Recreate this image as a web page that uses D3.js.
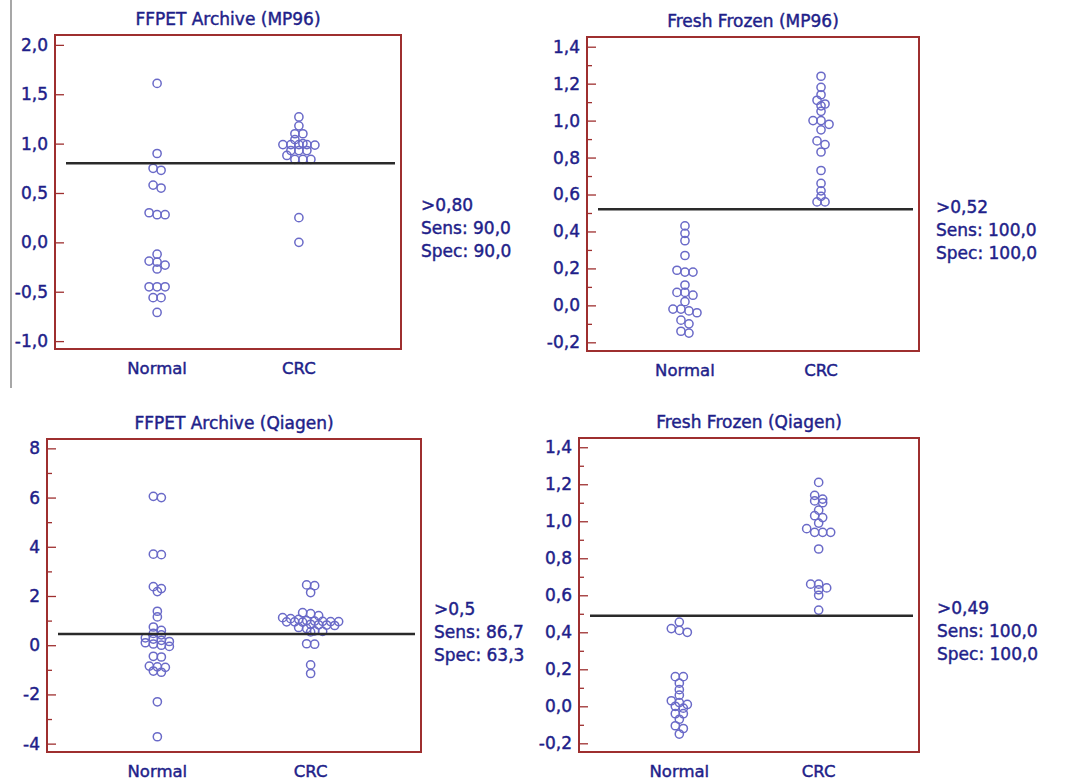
<!DOCTYPE html>
<html>
<head>
<meta charset="utf-8">
<script src="https://cdn.jsdelivr.net/npm/d3@7"></script>
<style>
  body { margin: 0; background: #fff; }
  text { font-family: "DejaVu Sans", Verdana, sans-serif; fill: #1f1f8a; stroke: #1f1f8a; stroke-width: 0.45px; }
</style>
</head>
<body>
<div id="chart"></div>
<script>
// groups on the x axis
var categories = ["Normal", "CRC"];

var titles = ["FFPET Archive (MP96)", "Fresh Frozen (MP96)", "FFPET Archive (Qiagen)", "Fresh Frozen (Qiagen)"];

// values
var ffpetMp96Normal = [1.61, 0.90, 0.73, 0.75, 0.55, 0.58, 0.28, 0.28, 0.30, -0.12,
    -0.19, -0.20, -0.23, -0.27, -0.45, -0.45, -0.45, -0.56, -0.56, -0.71];
var ffpetMp96Crc = [1.27, 1.18, 1.10, 1.10, 1.04, 1.00, 0.99, 0.99, 0.99, 0.99,
    0.985, 0.93, 0.93, 0.93, 0.88, 0.84, 0.84, 0.84, 0.25, 0.00];

var freshMp96Normal = [0.43, 0.39, 0.35, 0.27, 0.18, 0.18, 0.19, 0.11, 0.07, 0.055,
    0.07, 0.02, -0.02, -0.02, -0.03, -0.04, -0.08, -0.10, -0.14, -0.15];
var freshMp96Crc = [1.24, 1.18, 1.14, 1.11, 1.09, 1.08, 1.05, 1.00, 1.00, 0.98,
    0.95, 0.89, 0.87, 0.83, 0.73, 0.66, 0.62, 0.59, 0.56, 0.56];

var ffpetQiagenNormal = [6.05, 6.0, 3.7, 3.68, 2.38, 2.3, 2.18, 1.38, 1.15, 0.74,
    0.6, 0.48, 0.42, 0.3, 0.25, 0.2, 0.15, 0.1, 0.05, 0.0,
    -0.05, -0.45, -0.48, -0.85, -0.88, -0.9, -1.05, -1.1, -2.3, -3.72];
var ffpetQiagenCrc = [2.45, 2.42, 2.14, 1.32, 1.28, 1.2, 1.12, 1.08, 1.05, 1.0,
    0.98, 0.97, 0.96, 0.96, 0.95, 0.95, 0.94, 0.85, 0.83, 0.82,
    0.80, 0.72, 0.68, 0.58, 0.56, 0.54, 0.06, 0.04, -0.8, -1.15];

var freshQiagenNormal = [0.455, 0.42, 0.41, 0.40, 0.16, 0.16, 0.125, 0.09, 0.06, 0.03,
    0.02, 0.01, 0.0, -0.01, -0.04, -0.04, -0.07, -0.105, -0.12, -0.15];
var freshQiagenCrc = [1.21, 1.14, 1.12, 1.11, 1.10, 1.06, 1.03, 1.02, 0.99, 0.96,
    0.94, 0.94, 0.94, 0.85, 0.66, 0.66, 0.64, 0.63, 0.60, 0.52];

// y axis ticks
var ticksMp96Ffpet = [-1, -0.5, 0, 0.5, 1, 1.5, 2];
var ticksFresh = [-0.2, 0, 0.2, 0.4, 0.6, 0.8, 1.0, 1.2, 1.4];
var minorFresh = [-0.1, 0.1, 0.3, 0.5, 0.7, 0.9, 1.1, 1.3];
var ticksQiagenFfpet = [-4, -2, 0, 2, 4, 6, 8];
var minorQiagenFfpet = [-3, -1, 1, 3, 5, 7];

// cut-off and the text beside each panel
var cutoffs = [0.80, 0.52, 0.46, 0.49];
var cutoffLabels = [">0,80", ">0,52", ">0,5", ">0,49"];
var sensLabels = ["Sens: 90,0", "Sens: 100,0", "Sens: 86,7", "Sens: 100,0"];
var specLabels = ["Spec: 90,0", "Spec: 100,0", "Spec: 63,3", "Spec: 100,0"];

var comma = d3.formatLocale({decimal: ",", thousands: ".", grouping: [3], currency: ["", ""], minus: "-"});

var panels = [
    {normal: ffpetMp96Normal, crc: ffpetMp96Crc, domain: [-1.08, 2.10], ticks: ticksMp96Ffpet, minor: [],
     fmt: comma.format(".1f"), box: {x: 55, y: 35, w: 346, h: 314, tx: 20}},
    {normal: freshMp96Normal, crc: freshMp96Crc, domain: [-0.247, 1.4525], ticks: ticksFresh, minor: minorFresh,
     fmt: comma.format(".1f"), box: {x: 587, y: 37, w: 332, h: 314, tx: 17}},
    {normal: ffpetQiagenNormal, crc: ffpetQiagenCrc, domain: [-4.34, 8.38], ticks: ticksQiagenFfpet, minor: minorQiagenFfpet,
     fmt: comma.format("d"), box: {x: 47, y: 439, w: 374, h: 313, tx: 13}},
    {normal: freshQiagenNormal, crc: freshQiagenCrc, domain: [-0.247, 1.45], ticks: ticksFresh, minor: minorFresh,
     fmt: comma.format(".1f"), box: {x: 579, y: 438, w: 340, h: 314, tx: 18}}
];

var frameColor = "#9e2f2f",
    dotColor = "#6a6ac8";

var svg = d3.select("#chart")
    .append("svg")
    .attr("width", 1069)
    .attr("height", 784);

// thin grey rule at the far left of the top row
svg.append("line")
    .attr("x1", 11).attr("x2", 11)
    .attr("y1", 0).attr("y2", 388)
    .attr("stroke", "#8a8a8a")
    .attr("stroke-width", 1.5);

// puts dots of nearly equal value side by side, centred on the group
function swarm(values, y, step, tol) {
    var pts = values.map(function(v) { return {v: v, py: y(v)}; })
        .sort(function(a, b) { return a.py - b.py; });
    var rows = [], cur = null;
    pts.forEach(function(d) {
        if (cur && d.py - cur[0].py <= tol) cur.push(d);
        else { cur = [d]; rows.push(cur); }
    });
    rows.forEach(function(r) {
        r.forEach(function(d, i) { d.dx = (i - (r.length - 1) / 2) * step; });
    });
    return pts;
}

panels.forEach(function(p, i) {
    var b = p.box;
    var g = svg.append("g")
        .attr("transform", "translate(" + b.x + "," + b.y + ")");

    var x = d3.scalePoint()
        .domain(categories)
        .range([0, b.w])
        .padding(0.72);

    var y = d3.scaleLinear()
        .domain(p.domain)
        .range([b.h, 0]);

    // minor ticks
    g.append("g")
        .call(d3.axisLeft(y).tickValues(p.minor).tickSize(-5).tickFormat(""))
        .call(function(a) { a.select(".domain").remove(); a.selectAll("line").attr("stroke", frameColor).attr("stroke-width", 1.3); });

    // major ticks and labels
    g.append("g")
        .call(d3.axisLeft(y).tickValues(p.ticks).tickSize(-9).tickPadding(7).tickFormat(p.fmt))
        .call(function(a) {
            a.select(".domain").remove();
            a.selectAll("line").attr("stroke", frameColor).attr("stroke-width", 1.3);
            a.selectAll("text").style("font-size", "17px").attr("fill", null)
                .style("font-family", null);
        });

    g.append("rect")
        .attr("width", b.w)
        .attr("height", b.h)
        .attr("fill", "none")
        .attr("stroke", frameColor)
        .attr("stroke-width", 2);

    // dots
    [["Normal", p.normal], ["CRC", p.crc]].forEach(function(grp) {
        var pts = swarm(grp[1], y, 8, 4);
        g.append("g")
            .selectAll("circle")
            .data(pts)
            .enter()
            .append("circle")
            .attr("cx", function(d) { return x(grp[0]) + d.dx; })
            .attr("cy", function(d) { return d.py; })
            .attr("r", 4.1)
            .attr("fill", "none")
            .attr("stroke", dotColor)
            .attr("stroke-width", 1.5);
    });

    // cut-off line
    g.append("line")
        .attr("x1", 11).attr("x2", b.w - 6)
        .attr("y1", y(cutoffs[i])).attr("y2", y(cutoffs[i]))
        .attr("stroke", "#2a2a2a")
        .attr("stroke-width", 2.5);

    g.append("text")
        .attr("x", b.w / 2)
        .attr("y", -10)
        .attr("text-anchor", "middle")
        .style("font-size", "17px")
        .text(titles[i]);

    g.selectAll(".cat")
        .data(categories)
        .enter()
        .append("text")
        .attr("x", function(d) { return x(d); })
        .attr("y", b.h + 25)
        .attr("text-anchor", "middle")
        .style("font-size", "16.5px")
        .text(function(d) { return d; });

    [cutoffLabels[i], sensLabels[i], specLabels[i]].forEach(function(t, k) {
        g.append("text")
            .attr("x", b.w + b.tx)
            .attr("y", 176 + k * 23)
            .style("font-size", "17px")
            .text(t);
    });
});
</script>
</body>
</html>
